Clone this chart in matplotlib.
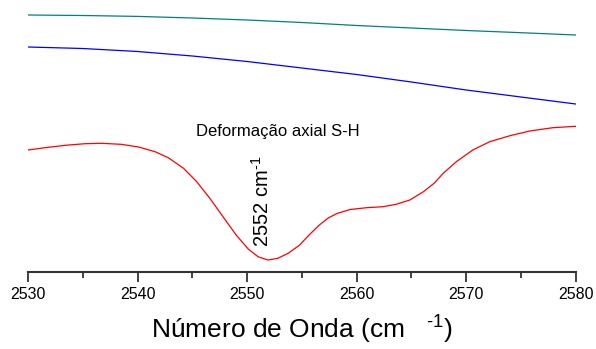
import matplotlib
matplotlib.use("Agg")
import matplotlib.pyplot as plt
from matplotlib.ticker import MultipleLocator

plt.rcParams['font.family'] = ['Liberation Sans', 'DejaVu Sans']
plt.rcParams['mathtext.fontset'] = 'custom'
plt.rcParams['mathtext.rm'] = 'Liberation Sans'
plt.rcParams['mathtext.it'] = 'Liberation Sans'
plt.rcParams['mathtext.default'] = 'regular'

# wavenumbers (cm-1) and relative transmittance
teal_x = [2530, 2535, 2540, 2545, 2550, 2555, 2560, 2565, 2570, 2575, 2580]
teal_y = [257, 256.5, 255.6, 254, 252, 249.5, 246.5, 244, 241.5, 239.3, 237]

blue_x = [2530, 2535, 2540, 2545, 2550, 2555, 2560, 2565, 2570, 2575, 2580]
blue_y = [225, 223.5, 220.5, 216, 210.5, 204, 197.5, 190, 182, 175, 168]

red_x = [2530, 2531.55, 2533.4, 2535.2, 2536.7, 2538.5, 2540.1, 2541.6,
         2542.8, 2544.2, 2545.4, 2546.6, 2547.8, 2549.0, 2550.1, 2551.0,
         2551.9, 2552.8, 2553.75, 2554.8, 2555.7, 2556.6, 2557.4, 2558.2,
         2559.4, 2560.9, 2562.4, 2563.6, 2564.85, 2566.1, 2567.1, 2567.9,
         2569.1, 2570.6, 2572.15, 2574.0, 2575.8, 2577.9, 2580]
red_y = [122, 124.3, 126.7, 128.3, 128.7, 127.7, 125, 120.3,
         114.3, 103.7, 90.3, 73.7, 55.3, 37, 23, 15.3,
         12, 13.7, 18.7, 27, 37.5, 47, 54, 58.5,
         62.5, 64.3, 65.3, 67.7, 72, 80.3, 89, 98.7,
         110.3, 122, 130.3, 136.3, 141, 144.3, 145.7]

fig = plt.figure(figsize=(5.96, 3.49), dpi=100)
ax = fig.add_axes([0.047, 0.2206, 0.919, 0.7794])

ax.plot(teal_x, teal_y, color='#008080', lw=0.9)
ax.plot(blue_x, blue_y, color='#0000ff', lw=0.9)
ax.plot(red_x, red_y, color='#ff0000', lw=0.9)

ax.text(2552.8, 141, 'Deformação axial S-H', ha='center', va='center', fontsize=12)
ax.text(2551.35, 25, r'2552 cm$^{\text{-1}}$', rotation=90, ha='center', va='bottom',
        fontsize=14.5)

ax.set_xlim(2530, 2580)
ax.set_ylim(0, 272)
ax.xaxis.set_major_locator(MultipleLocator(10))
ax.xaxis.set_minor_locator(MultipleLocator(5))
ax.set_yticks([])
for s in ['left', 'right', 'top']:
    ax.spines[s].set_visible(False)
ax.spines['bottom'].set_linewidth(1.5)
ax.spines['bottom'].set_color('#333333')
ax.tick_params(axis='x', which='major', length=7, width=1.3, color='#333333',
               labelsize=11.5, pad=4)
ax.tick_params(axis='x', which='minor', length=4, width=1.3, color='#333333')

ax.set_xlabel(r'Número de Onda (cm$\ \ \ {}^{\text{-1}}$)', fontsize=19, labelpad=8)

fig.savefig('out.png', dpi=100)
